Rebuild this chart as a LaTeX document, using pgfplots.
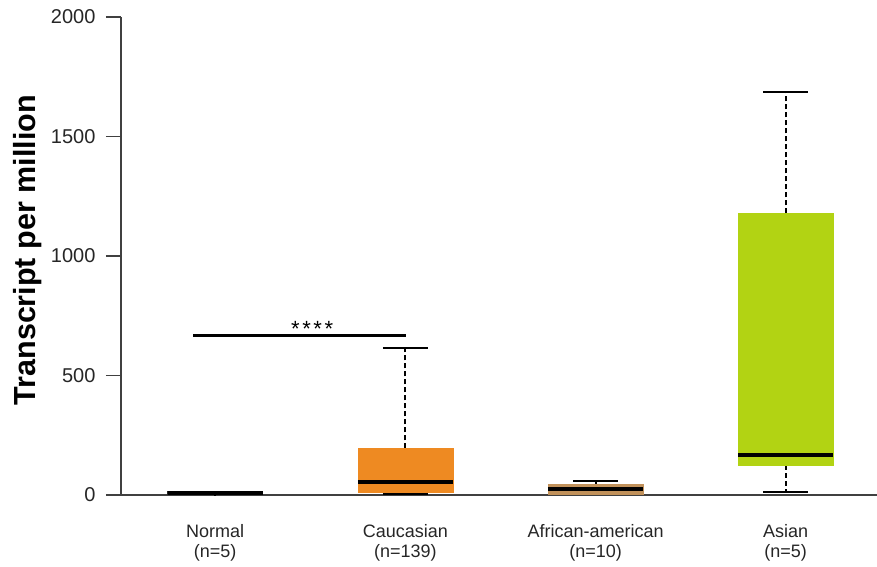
\documentclass[border=0pt]{standalone}
\usepackage{pgfplots}
\pgfplotsset{compat=1.18}
\usepgfplotslibrary{statistics}
\usepackage{fontspec}
\setmainfont{Liberation Sans}
\definecolor{caucorange}{RGB}{238,138,34}
\definecolor{afrtan}{RGB}{193,145,90}
\definecolor{asiangreen}{RGB}{178,211,19}
\definecolor{axisgray}{RGB}{64,64,64}
\begin{document}
\begin{tikzpicture}
\begin{axis}[
  scale only axis, width=756pt, height=478pt,
  xmin=-0.495, xmax=3.48, ymin=0, ymax=2000,
  axis lines*=left,
  axis line style={line width=1.5pt, color=axisgray},
  ytick={0,500,1000,1500,2000},
  major tick length=15pt,
  tick align=outside,
  ytick style={line width=1.5pt, color=axisgray},
  xtick={0,1,2,3},
  xticklabels={{Normal\\(n=5)},{Caucasian\\(n=139)},{African-american\\(n=10)},{Asian\\(n=5)}},
  xticklabel style={align=center, font=\fontsize{18}{20}\selectfont, color=black!85, yshift=-11pt},
  xtick style={draw=none},
  yticklabel style={font=\fontsize{20}{22}\selectfont, color=black!85, xshift=-7pt},
  /pgf/number format/assume math mode=true,
  /pgf/number format/1000 sep={},
  ylabel={Transcript per million},
  ylabel style={at={(axis description cs:-0.124,0.512)}, anchor=center, font=\fontsize{30.5}{32}\selectfont\bfseries},
  clip=false,
  boxplot/draw direction=y,
  boxplot/every whisker/.style={black, line width=2pt, dash pattern=on 5pt off 3pt},
  boxplot/every median/.style={black, line width=3.5pt},
]
% Normal
\addplot[boxplot prepared={draw position=0, lower whisker=1, lower quartile=2, median=8, upper quartile=14, upper whisker=17, box extend=0.5, whisker extend=0},
  boxplot/every box/.style={fill=black!85, draw=black!85}] coordinates {};
% Caucasian
\addplot[boxplot prepared={draw position=1, lower whisker=3, lower quartile=10, median=54, upper quartile=195, upper whisker=614, box extend=0.5, whisker extend=0},
  boxplot/every box/.style={fill=caucorange, draw=caucorange}] coordinates {};
% African-american
\addplot[boxplot prepared={draw position=2, lower whisker=2, lower quartile=5, median=25, upper quartile=45, upper whisker=58, box extend=0.5, whisker extend=0},
  boxplot/every box/.style={fill=afrtan, draw=afrtan},
  boxplot/every whisker/.style={black, line width=2pt}] coordinates {};
% Asian
\addplot[boxplot prepared={draw position=3, lower whisker=14, lower quartile=125, median=167, upper quartile=1178, upper whisker=1685, box extend=0.5, whisker extend=0},
  boxplot/every box/.style={fill=asiangreen, draw=asiangreen}] coordinates {};
% whisker caps
\addplot[black, line width=2pt] coordinates {(0.882,614) (1.118,614)};
\addplot[black, line width=2pt] coordinates {(0.882,3) (1.118,3)};
\addplot[black, line width=2pt] coordinates {(1.882,58) (2.118,58)};
\addplot[black, line width=2pt] coordinates {(2.882,1685) (3.118,1685)};
\addplot[black, line width=2pt] coordinates {(2.882,14) (3.118,14)};
% significance bar
\addplot[black, line width=3pt] coordinates {(-0.116,669) (1.005,669)};
\node[font=\fontsize{22}{22}\selectfont, anchor=base, inner sep=0pt] at (axis cs:0.51,662) {*\kern2.6pt*\kern2.6pt*\kern2.6pt*};
\end{axis}
\pgfresetboundingbox
\path[use as bounding box] (-121pt,-71pt) rectangle (756pt,495pt);
\end{tikzpicture}
\end{document}
